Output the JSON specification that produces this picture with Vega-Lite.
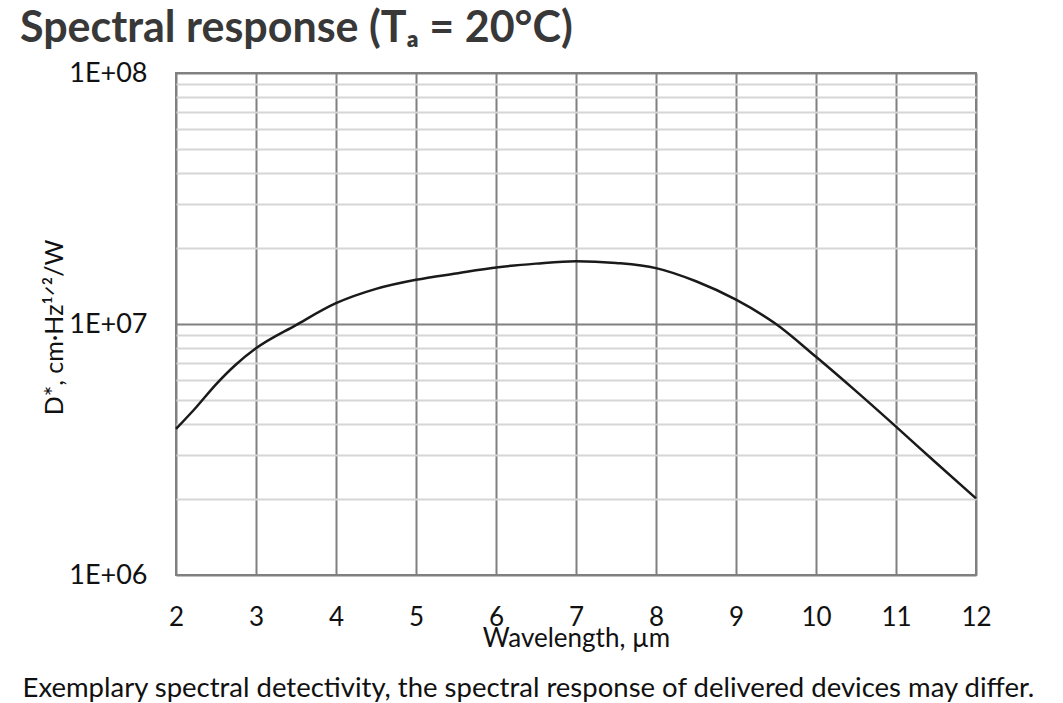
{
  "$schema": "https://vega.github.io/schema/vega-lite/v6.json",
  "width": 800,
  "height": 502,
  "autosize": "none",
  "padding": {"left": 176, "top": 73, "right": 87, "bottom": 128},
  "background": "white",
  "title": {
    "text": "Spectral response (Tₐ = 20°C)",
    "anchor": "start",
    "frame": "group",
    "dx": -156,
    "offset": 8,
    "font": "Lato",
    "fontSize": 43,
    "fontWeight": "bold",
    "color": "#383838"
  },
  "config": {
    "view": {"stroke": "#808080", "strokeWidth": 2},
    "font": "Lato",
    "axis": {
      "labelFont": "Lato",
      "titleFont": "Lato",
      "labelColor": "#111111",
      "titleColor": "#111111",
      "titleFontWeight": "normal"
    }
  },
  "data": {
    "values": [
      {"wavelength": 2, "detectivity": 3820000},
      {"wavelength": 2.25, "detectivity": 4650000},
      {"wavelength": 2.5, "detectivity": 5750000},
      {"wavelength": 2.75, "detectivity": 6900000},
      {"wavelength": 3, "detectivity": 8000000},
      {"wavelength": 3.5, "detectivity": 9900000},
      {"wavelength": 4, "detectivity": 12100000},
      {"wavelength": 4.5, "detectivity": 13800000},
      {"wavelength": 5, "detectivity": 15000000},
      {"wavelength": 5.5, "detectivity": 15900000},
      {"wavelength": 6, "detectivity": 16800000},
      {"wavelength": 6.5, "detectivity": 17400000},
      {"wavelength": 7, "detectivity": 17800000},
      {"wavelength": 7.5, "detectivity": 17500000},
      {"wavelength": 8, "detectivity": 16700000},
      {"wavelength": 8.5, "detectivity": 14800000},
      {"wavelength": 9, "detectivity": 12500000},
      {"wavelength": 9.5, "detectivity": 10000000},
      {"wavelength": 10, "detectivity": 7400000},
      {"wavelength": 10.5, "detectivity": 5400000},
      {"wavelength": 11, "detectivity": 3900000},
      {"wavelength": 11.5, "detectivity": 2800000},
      {"wavelength": 12, "detectivity": 2020000}
    ]
  },
  "layer": [
    {
      "mark": {"type": "line", "color": "#1a1a1a", "strokeWidth": 2.5, "interpolate": "monotone"},
      "encoding": {
        "x": {
          "field": "wavelength",
          "type": "quantitative",
          "scale": {"domain": [2, 12], "nice": false, "zero": false},
          "axis": {
            "orient": "bottom",
            "values": [2, 3, 4, 5, 6, 7, 8, 9, 10, 11, 12],
            "domain": false,
            "ticks": false,
            "tickSize": 0,
            "grid": true,
            "gridColor": "#808080",
            "gridWidth": 2,
            "gridOpacity": 1,
            "labelFontSize": 26,
            "labelBaseline": "alphabetic",
            "labelPadding": 50,
            "labelFlush": false,
            "title": "Wavelength, µm",
            "titleFontSize": 26,
            "titleBaseline": "alphabetic",
            "titleY": 71
          }
        },
        "y": {
          "field": "detectivity",
          "type": "quantitative",
          "scale": {"type": "log", "domain": [1000000, 100000000], "nice": false},
          "axis": {
            "values": [1000000, 2000000, 3000000, 4000000, 5000000, 6000000, 7000000, 8000000, 9000000, 10000000, 20000000, 30000000, 40000000, 50000000, 60000000, 70000000, 80000000, 90000000, 100000000],
            "labelExpr": "datum.value == 1000000 ? '1E+06' : datum.value == 10000000 ? '1E+07' : datum.value == 100000000 ? '1E+08' : ''",
            "domain": false,
            "ticks": false,
            "tickSize": 0,
            "grid": true,
            "gridColor": {
              "condition": {"test": "datum.value == 1000000 || datum.value == 10000000 || datum.value == 100000000", "value": "#808080"},
              "value": "#d6d6d6"
            },
            "gridWidth": 2,
            "gridOpacity": 1,
            "labelFontSize": 27,
            "labelPadding": 29,
            "labelBaseline": "middle",
            "labelFlush": false,
            "labelOverlap": false,
            "title": "D*, cm·Hz¹ᐟ²/W",
            "titleFontSize": 25,
            "titleAngle": -90,
            "titleBaseline": "alphabetic",
            "titleX": -114,
            "titleY": 254
          }
        }
      }
    },
    {
      "mark": {"type": "rule", "strokeOpacity": 0},
      "encoding": {
        "x": {
          "field": "wavelength",
          "type": "quantitative",
          "axis": {
            "orient": "bottom",
            "labels": false,
            "ticks": false,
            "domain": false,
            "grid": false,
            "title": "Exemplary spectral detectivity, the spectral response of delivered devices may differ.",
            "titleFontSize": 27.5,
            "titleAnchor": "start",
            "titleAlign": "left",
            "titleBaseline": "alphabetic",
            "titleX": -154,
            "titleY": 121
          }
        }
      }
    }
  ],
  "resolve": {"axis": {"x": "independent"}}
}
